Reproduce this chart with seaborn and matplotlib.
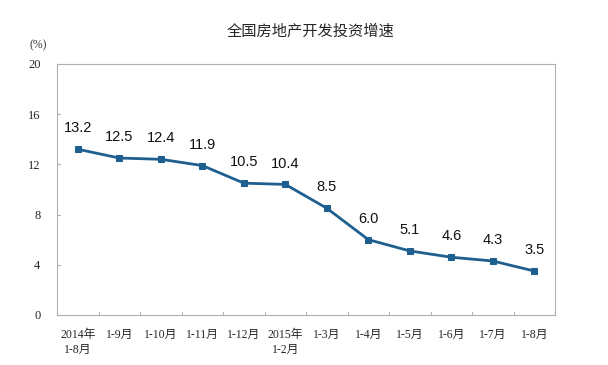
import matplotlib
matplotlib.use('Agg')
import matplotlib.pyplot as plt
import seaborn as sns
import pandas as pd

# the data
periods = ['2014年\n1-8月', '1-9月', '1-10月', '1-11月', '1-12月', '2015年\n1-2月',
           '1-3月', '1-4月', '1-5月', '1-6月', '1-7月', '1-8月']
growth = [13.2, 12.5, 12.4, 11.9, 10.5, 10.4, 8.5, 6.0, 5.1, 4.6, 4.3, 3.5]
y_ticks = [0, 4, 8, 12, 16, 20]

df = pd.DataFrame({'period': periods, 'growth': growth})
df['pos'] = range(len(df))

sns.set_style('white')
plt.rcParams['font.family'] = ['Liberation Serif', 'Noto Sans CJK SC', 'DejaVu Sans']

fig = plt.figure(figsize=(6.08, 3.65), dpi=100)
ax = fig.add_axes([0.094, 0.137, 0.819, 0.688])

line_color = '#1f5f8f'
sns.lineplot(data=df, x='pos', y='growth', ax=ax, color=line_color, lw=2,
             marker='s', markersize=5, markeredgecolor=line_color)

for p, v in zip(df['pos'], df['growth']):
    ax.annotate(f'{v:.1f}', (p, v), xytext=(0, 10), textcoords='offset points',
                ha='center', va='bottom', fontsize=10.5,
                family=['Liberation Sans', 'DejaVu Sans'], color='#111111')

ax.set_xlim(-0.5, len(periods) - 0.5)
ax.set_ylim(0, 20)
ax.set_yticks(y_ticks)
ax.set_yticklabels([str(t) for t in y_ticks], fontsize=9)
ax.set_xticks(df['pos'])
ax.set_xticklabels(periods, fontsize=8.5, linespacing=1.35,
                   family=['Liberation Serif', 'Noto Sans CJK SC'])
ax.tick_params(axis='x', length=0, pad=10)
ax.tick_params(axis='y', length=0, pad=12)
# category boundary ticks on the bottom axis
for b in range(len(periods) + 1):
    ax.plot([b - 0.5, b - 0.5], [0, 0.25], color='#b0b0b0', lw=0.8, clip_on=False)
for t in y_ticks:
    ax.plot([-0.5, -0.42], [t, t], color='#b0b0b0', lw=0.8, clip_on=False)

for s in ax.spines.values():
    s.set_color('#b0b0b0')
    s.set_linewidth(0.8)

ax.set_xlabel('')
ax.set_ylabel('')
fig.text(0.51, 0.915, '全国房地产开发投资增速', ha='center', va='center', fontsize=11,
         family=['Noto Sans CJK SC', 'DejaVu Sans'])
fig.text(0.062, 0.875, '(%)', ha='center', va='center', fontsize=8.5, color='#333333')

plt.savefig('out.png', dpi=100)
